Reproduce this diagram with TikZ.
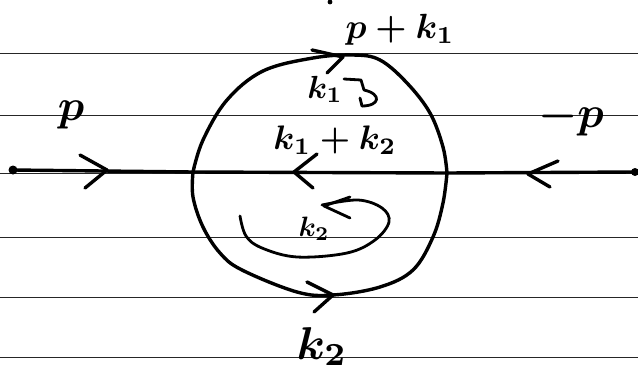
\documentclass[tikz,border=0pt]{standalone}
\begin{document}
\begin{tikzpicture}[x=1pt,y=-1pt,
  rule/.style={line width=0.8pt, black!85},
  prop/.style={line width=3.4pt, line cap=round, line join=round},
  chev/.style={line width=3.4pt, line cap=round, line join=round},
  thinprop/.style={line width=2.8pt, line cap=round, line join=round},
  lbl/.style={inner sep=0pt, anchor=base}]
\useasboundingbox (0,0) rectangle (638,372);
% ruled paper lines
\foreach \yy in {53,115,173,237,297,357}
  \draw[rule] (0,\yy) -- (638,\yy);
% stray dot at top
\fill (330,2) circle (2.4);
% vertices and external ends
\coordinate (A) at (13,170);
\coordinate (B) at (635,172);
\coordinate (L) at (193,172);
\coordinate (R) at (447,173);
\fill (A) circle (4.5);
\fill (B) circle (4);
% main line
\draw[prop] (A) -- (L) -- (R) -- (B);
% upper arc
\draw[prop] plot[smooth, tension=0.6] coordinates {(L) (203,140) (227,100) (263,71) (313,58) (353,55) (380,60) (407,83) (430,113) (443,147) (R)};
% lower arc
\draw[prop] plot[smooth, tension=0.6] coordinates {(L) (193,197) (203,227) (220,253) (242,270) (297,292) (333,295) (380,287) (413,270) (433,237) (443,203) (R)};
% arrows on lines
\draw[chev] (80,155) -- (107,170) -- (85,188);
\draw[chev] (317,154) -- (294,172) -- (313,188);
\draw[chev] (558,161) -- (528,174) -- (550,187);
\draw[chev] (312,50) -- (343,57) -- (327,73);
\draw[chev] (307,282) -- (333,295) -- (314,312);
% k2 loop arrow
\draw[thinprop] plot[smooth, tension=0.6] coordinates {(240,216) (246,236) (262,248) (297,257) (347,253) (375,240) (389,222) (382,208) (358,200) (322,205)};
\draw[thinprop] (350,197) -- (324,206) -- (350,218);
% k1 curl arrow
\draw[thinprop] (344,79) -- (361,80) -- (364,90) .. controls (382,94) and (380,106) .. (362,106);
\draw[thinprop] (360,98) -- (362,106);
% labels
\boldmath
\node[lbl] (lp) at (71,120) {\scalebox{4.4}{$p$}};
\node[lbl] (lmp) at (571,127) {\scalebox{4.4}{$-p$}};
\node[lbl] (lpk) at (400,38) {\scalebox{3.5}{$p+k_1$}};
\node[lbl] (lkk) at (335,149) {\scalebox{3.4}{$k_1+k_2$}};
\node[lbl] (lk1) at (325,98) {\scalebox{3.2}{$k_1$}};
\node[lbl] (lk2s) at (314,236) {\scalebox{2.8}{$k_2$}};
\node[lbl] (lk2) at (322,359) {\scalebox{4.6}{$k_2$}};
\end{tikzpicture}
\end{document}
